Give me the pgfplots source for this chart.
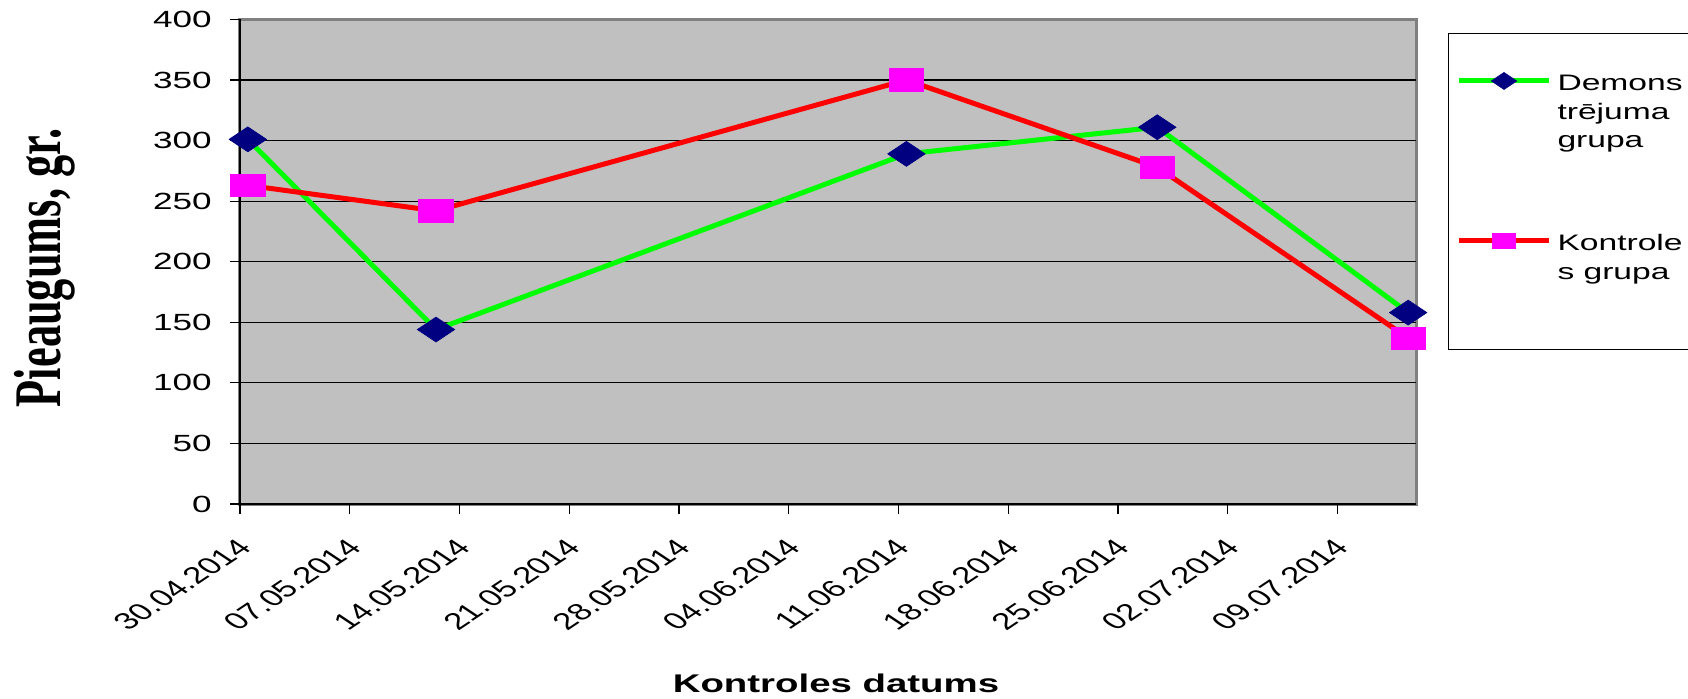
\documentclass[border=0pt]{standalone}
\usepackage{fontspec}
\setmainfont{Liberation Sans}[FakeStretch=1.5]
\newfontfamily\plainsans{Liberation Sans}
\newfontfamily\serifb{Liberation Serif}
\usepackage{pgfplots}
\pgfplotsset{compat=1.18}
\definecolor{plotbg}{HTML}{C0C0C0}
\definecolor{framegray}{HTML}{808080}
\definecolor{lgreen}{HTML}{00FF00}
\definecolor{lred}{HTML}{FF0000}
\definecolor{dnavy}{HTML}{000080}
\definecolor{pmag}{HTML}{FF00FF}
% one legend line, padded so the box runs past the right edge
\newcommand\lgl[1]{\hbox to 80bp{#1\hfil}}

\begin{document}
\begin{tikzpicture}
\begin{axis}[
    name=ax,
    scale only axis,
    width=588bp, height=242.3bp,
    xmin=0, xmax=75, ymin=0, ymax=400,
    clip=false,
    axis lines*=left,
    axis line style={-, black, line width=1bp},
    axis background/.style={fill=plotbg, draw=framegray, line width=1.5bp},
    xtick={0,7,...,70},
    xticklabels={30.04.2014,07.05.2014,14.05.2014,21.05.2014,28.05.2014,04.06.2014,11.06.2014,18.06.2014,25.06.2014,02.07.2014,09.07.2014},
    ytick={0,50,...,350},
    extra y ticks={400},
    extra y tick style={grid=none},
    tick align=outside,
    major tick length=5bp,
    tick style={black, line width=0.6bp},
    ymajorgrids,
    grid style={black, line width=0.6bp},
    /pgf/number format/assume math mode=true,
    yticklabel style={font=\fontsize{11.7bp}{14bp}\selectfont, inner sep=0pt, anchor=east, xshift=-9bp},
    xticklabel style={font=\plainsans\fontsize{11.7bp}{14bp}\selectfont, inner sep=0pt, anchor=east, xshift=2.5bp, yshift=-14.5bp, xscale=1.5, rotate=45},
    xlabel={Kontroles datums},
    xlabel style={font=\bfseries\fontsize{12.8bp}{15bp}\selectfont, at={(axis description cs:0.5068,-0.388)}, anchor=base, inner sep=0pt},
    ylabel={Pieaugums, gr.},
    ylabel style={font=\serifb\bfseries\fontsize{22.2bp}{26bp}\selectfont, at={(axis description cs:-0.1658,0.487)}, anchor=center, inner sep=0pt, yscale=1.5},
    legend style={at={(rel axis cs:1.0272,0.972)}, anchor=north west, draw=black, line width=0.5bp, fill=white,
        inner xsep=4bp, inner ysep=19.5bp, row sep=41bp, column sep=3bp,
        font=\fontsize{11.2bp}{14.25bp}\selectfont, cells={anchor=base west}, nodes={inner sep=0pt}},
    legend image code/.code={
        \draw[mark repeat=2, mark phase=2, #1, yshift=33.5bp, every mark/.append style={scale=0.68}]
            plot coordinates {(0bp,0bp) (22.5bp,0bp) (45bp,0bp)};
    },
]
\addplot[color=lgreen, line width=2.5bp, mark=diamond*, mark size=6.25bp,
    mark options={fill=dnavy, draw=dnavy, line width=0.3bp, xscale=2}]
    coordinates {(0.5,301) (12.5,144) (42.5,289) (58.5,311) (74.5,158)};
\addlegendentry{\vbox{\lgl{Demons}\lgl{trējuma}\lgl{grupa}}}
\addplot[color=lred, line width=2.5bp, mark=square*, mark size=5.6bp,
    mark options={fill=pmag, draw=pmag, line width=0.3bp, xscale=1.54}]
    coordinates {(0.5,263) (12.5,242) (42.5,350) (58.5,278) (74.5,137)};
\addlegendentry{\vbox{\lgl{Kontrole}\lgl{s grupa}\lgl{}}}
\end{axis}
\pgfresetboundingbox
\path[use as bounding box] ([xshift=-120bp,yshift=-97bp]ax.south west) rectangle ([xshift=136bp,yshift=9.7bp]ax.north east);
\end{tikzpicture}
\end{document}
